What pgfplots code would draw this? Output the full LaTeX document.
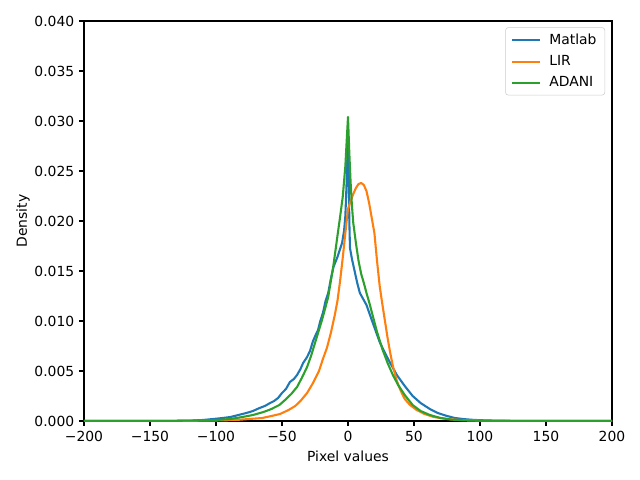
\documentclass[border=0pt]{standalone}
\usepackage{fontspec}
\setmainfont{DejaVu Sans}
\usepackage{pgfplots}
\pgfplotsset{compat=1.18}

\definecolor{mplblue}{HTML}{1F77B4}
\definecolor{mplorange}{HTML}{FF7F0E}
\definecolor{mplgreen}{HTML}{2CA02C}

\begin{document}
\begin{tikzpicture}
\useasboundingbox (0,0) rectangle (460.8pt,345.6pt);
\begin{axis}[
    at={(60.48pt,42.48pt)}, anchor=south west,
    scale only axis, width=380.16pt, height=288pt,
    xmin=-200, xmax=200, ymin=0, ymax=0.04,
    xtick={-200,-150,...,200},
    xticklabels={−200,−150,−100,−50,0,50,100,150,200},
    ytick={0,0.005,...,0.0401},
    scaled y ticks=false,
    yticklabel style={/pgf/number format/.cd, fixed, fixed zerofill, precision=3},
    /pgf/number format/assume math mode=true,
    tick pos=left, tick align=outside,
    major tick length=3.5pt,
    every tick/.style={black, line width=0.8pt},
    axis line style={line width=0.8pt},
    xlabel={Pixel values}, ylabel={Density},
    ylabel shift=-3.5pt,
    every axis plot/.append style={line width=1.5pt, line join=round},
    legend cell align=left,
    legend image code/.code={\draw[#1] (0pt,0pt) -- (20pt,0pt);},
    legend style={at={(1,1)}, anchor=north east, xshift=-5pt, yshift=-4.5pt,
        draw=black!20, rounded corners=2pt, fill=white, fill opacity=0.8, text opacity=1,
        inner xsep=4pt, inner ysep=2.5pt, row sep=2.5pt, column sep=4pt},
]

% Matlab
\addplot[mplblue] coordinates {
(-200,0) (-150,0) (-120,0.00003) (-110,0.0001) (-102,0.0002) (-95,0.0003)
(-89,0.0004) (-83,0.0006) (-77,0.0008) (-72,0.0010) (-67,0.0013) (-63,0.0015)
(-59,0.0018) (-56,0.0020) (-53,0.0023) (-50,0.0028) (-47,0.0032) (-44,0.0039)
(-41,0.0042) (-38.6,0.0046) (-36,0.0052) (-34,0.0058) (-31,0.0064) (-28.8,0.0070)
(-26.5,0.0080) (-24.5,0.0086) (-22.7,0.0091) (-21,0.0100) (-19,0.0108) (-17,0.0120)
(-15,0.0128) (-13,0.0142) (-11,0.0154) (-8,0.0164) (-6,0.0172) (-4.5,0.0178)
(-3,0.0190) (-2,0.0205) (-1,0.0240) (0,0.0285) (0.5,0.0255) (1,0.0200)
(1.5,0.0173) (3,0.0162) (5,0.0150) (7,0.0138) (9,0.0128) (11.5,0.0122)
(14,0.0116) (18,0.0101) (21,0.0090) (24,0.0079) (28,0.0068) (32,0.0058)
(37,0.0046) (43,0.0035) (49,0.0025) (55,0.0018) (62,0.0012) (68,0.0008)
(75,0.0005) (81,0.0003) (87,0.0002) (93,0.00013) (100,0.00008) (110,0.00004)
(130,0.00001) (200,0)
};

% LIR
\addplot[mplorange] coordinates {
(-200,0) (-120,0.00002) (-100,0.00005) (-85,0.0001) (-75,0.0002) (-65,0.0003)
(-58,0.0005) (-51.5,0.0007) (-45,0.0011) (-40,0.0015) (-36,0.0020) (-31,0.0028)
(-26.5,0.0038) (-22,0.0050) (-19,0.0062) (-16,0.0073) (-13,0.0088) (-10,0.0106)
(-8,0.0120) (-6,0.0140) (-4,0.0163) (-2,0.0188) (0,0.0212) (2,0.0220)
(4,0.0227) (6,0.0233) (8,0.0237) (10,0.0238) (12,0.0236) (14,0.0230)
(16,0.0218) (18,0.0203) (20,0.0188) (22,0.0160) (24,0.0135) (26,0.0117)
(28,0.0100) (30,0.0083) (32,0.0068) (34,0.0055) (37,0.0040) (40,0.0030)
(43,0.0022) (47,0.0016) (52,0.0011) (58,0.0007) (65,0.0004) (75,0.0002)
(85,0.0001) (100,0.00004) (130,0.00001) (200,0)
};

% ADANI
\addplot[mplgreen] coordinates {
(-200,0) (-130,0.00002) (-110,0.00006) (-100,0.0001) (-89,0.0002) (-80,0.0004)
(-72,0.0006) (-64,0.0009) (-58,0.0012) (-52,0.0016) (-47.7,0.0021) (-43,0.0027)
(-38.6,0.0034) (-35,0.0043) (-31,0.0054) (-28,0.0065) (-25,0.0078) (-22,0.0091)
(-19.7,0.0101) (-17,0.0114) (-15,0.0124) (-13,0.0140) (-11,0.0156) (-8,0.0185)
(-6,0.0204) (-4,0.0224) (-2,0.0255) (-1,0.0280) (0,0.0304) (1,0.0268)
(2,0.0238) (3,0.0215) (4,0.0198) (6,0.0178) (8,0.0160) (10,0.0147)
(12,0.0138) (14,0.0128) (16,0.0119) (18,0.0109) (20,0.0099) (22,0.0089)
(26,0.0072) (30,0.0058) (34,0.0046) (38,0.0036)
(43,0.0026) (49,0.0016) (55,0.0010) (62,0.0006) (70,0.0003) (78,0.00015)
(88,0.00006) (100,0.00003) (120,0.00001) (200,0)
};

\legend{Matlab,LIR,ADANI}
\end{axis}
\end{tikzpicture}
\end{document}
